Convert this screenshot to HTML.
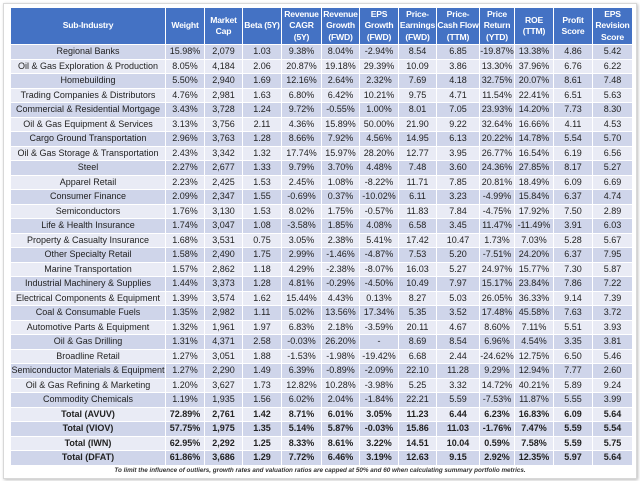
<!DOCTYPE html>
<html><head><meta charset="utf-8"><style>
body{margin:0;width:640px;height:481px;background:#fff;position:relative;overflow:hidden;font-family:"Liberation Sans",sans-serif;}
.frame{position:absolute;left:3px;top:3px;width:632px;height:474px;border:1px solid #d8d8d8;box-shadow:1px 1px 3px #bbb;background:#fff;}
table{position:absolute;left:10px;top:7px;border-collapse:collapse;table-layout:fixed;}
td,th{padding:0;text-align:center;border:1px solid #fff;white-space:nowrap;overflow:hidden;}
th{background:#4472c4;color:#fff;font-size:8.6px;letter-spacing:-0.2px;font-weight:bold;height:36px;line-height:11.5px;}
td{font-size:9px;color:#222;height:13.5px;line-height:13px;}
tr.d td{background:#cfd5ea;}
tr.l td{background:#e9ebf5;}
tr.t td{font-weight:bold;}
.note{position:absolute;left:0;width:640px;top:467px;text-align:center;font-size:6.3px;font-style:italic;font-weight:bold;color:#333;}
</style></head><body>
<div class="frame"></div>
<table>
<colgroup><col style="width:155px"><col style="width:39px"><col style="width:38px"><col style="width:39px"><col style="width:40px"><col style="width:38px"><col style="width:39px"><col style="width:38px"><col style="width:43px"><col style="width:35px"><col style="width:39px"><col style="width:39px"><col style="width:40px"></colgroup>
<tr><th>Sub-Industry</th><th>Weight</th><th>Market<br>Cap</th><th>Beta (5Y)</th><th>Revenue<br>CAGR<br>(5Y)</th><th>Revenue<br>Growth<br>(FWD)</th><th>EPS<br>Growth<br>(FWD)</th><th>Price-<br>Earnings<br>(FWD)</th><th>Price-<br>Cash Flow<br>(TTM)</th><th>Price<br>Return<br>(YTD)</th><th>ROE<br>(TTM)</th><th>Profit<br>Score</th><th>EPS<br>Revision<br>Score</th></tr>
<tr class="d"><td>Regional Banks</td><td>15.98%</td><td>2,079</td><td>1.03</td><td>9.38%</td><td>8.04%</td><td>-2.94%</td><td>8.54</td><td>6.85</td><td>-19.87%</td><td>13.38%</td><td>4.86</td><td>5.42</td></tr>
<tr class="l"><td>Oil &amp; Gas Exploration &amp; Production</td><td>8.05%</td><td>4,184</td><td>2.06</td><td>20.87%</td><td>19.18%</td><td>29.39%</td><td>10.09</td><td>3.86</td><td>13.30%</td><td>37.96%</td><td>6.76</td><td>6.22</td></tr>
<tr class="d"><td>Homebuilding</td><td>5.50%</td><td>2,940</td><td>1.69</td><td>12.16%</td><td>2.64%</td><td>2.32%</td><td>7.69</td><td>4.18</td><td>32.75%</td><td>20.07%</td><td>8.61</td><td>7.48</td></tr>
<tr class="l"><td>Trading Companies &amp; Distributors</td><td>4.76%</td><td>2,981</td><td>1.63</td><td>6.80%</td><td>6.42%</td><td>10.21%</td><td>9.75</td><td>4.71</td><td>11.54%</td><td>22.41%</td><td>6.51</td><td>5.63</td></tr>
<tr class="d"><td>Commercial &amp; Residential Mortgage</td><td>3.43%</td><td>3,728</td><td>1.24</td><td>9.72%</td><td>-0.55%</td><td>1.00%</td><td>8.01</td><td>7.05</td><td>23.93%</td><td>14.20%</td><td>7.73</td><td>8.30</td></tr>
<tr class="l"><td>Oil &amp; Gas Equipment &amp; Services</td><td>3.13%</td><td>3,756</td><td>2.11</td><td>4.36%</td><td>15.89%</td><td>50.00%</td><td>21.90</td><td>9.22</td><td>32.64%</td><td>16.66%</td><td>4.11</td><td>4.53</td></tr>
<tr class="d"><td>Cargo Ground Transportation</td><td>2.96%</td><td>3,763</td><td>1.28</td><td>8.66%</td><td>7.92%</td><td>4.56%</td><td>14.95</td><td>6.13</td><td>20.22%</td><td>14.78%</td><td>5.54</td><td>5.70</td></tr>
<tr class="l"><td>Oil &amp; Gas Storage &amp; Transportation</td><td>2.43%</td><td>3,342</td><td>1.32</td><td>17.74%</td><td>15.97%</td><td>28.20%</td><td>12.77</td><td>3.95</td><td>26.77%</td><td>16.54%</td><td>6.19</td><td>6.56</td></tr>
<tr class="d"><td>Steel</td><td>2.27%</td><td>2,677</td><td>1.33</td><td>9.79%</td><td>3.70%</td><td>4.48%</td><td>7.48</td><td>3.60</td><td>24.36%</td><td>27.85%</td><td>8.17</td><td>5.27</td></tr>
<tr class="l"><td>Apparel Retail</td><td>2.23%</td><td>2,425</td><td>1.53</td><td>2.45%</td><td>1.08%</td><td>-8.22%</td><td>11.71</td><td>7.85</td><td>20.81%</td><td>18.49%</td><td>6.09</td><td>6.69</td></tr>
<tr class="d"><td>Consumer Finance</td><td>2.09%</td><td>2,347</td><td>1.55</td><td>-0.69%</td><td>0.37%</td><td>-10.02%</td><td>6.11</td><td>3.23</td><td>-4.99%</td><td>15.84%</td><td>6.37</td><td>4.74</td></tr>
<tr class="l"><td>Semiconductors</td><td>1.76%</td><td>3,130</td><td>1.53</td><td>8.02%</td><td>1.75%</td><td>-0.57%</td><td>11.83</td><td>7.84</td><td>-4.75%</td><td>17.92%</td><td>7.50</td><td>2.89</td></tr>
<tr class="d"><td>Life &amp; Health Insurance</td><td>1.74%</td><td>3,047</td><td>1.08</td><td>-3.58%</td><td>1.85%</td><td>4.08%</td><td>6.58</td><td>3.45</td><td>11.47%</td><td>-11.49%</td><td>3.91</td><td>6.03</td></tr>
<tr class="l"><td>Property &amp; Casualty Insurance</td><td>1.68%</td><td>3,531</td><td>0.75</td><td>3.05%</td><td>2.38%</td><td>5.41%</td><td>17.42</td><td>10.47</td><td>1.73%</td><td>7.03%</td><td>5.28</td><td>5.67</td></tr>
<tr class="d"><td>Other Specialty Retail</td><td>1.58%</td><td>2,490</td><td>1.75</td><td>2.99%</td><td>-1.46%</td><td>-4.87%</td><td>7.53</td><td>5.20</td><td>-7.51%</td><td>24.20%</td><td>6.37</td><td>7.95</td></tr>
<tr class="l"><td>Marine Transportation</td><td>1.57%</td><td>2,862</td><td>1.18</td><td>4.29%</td><td>-2.38%</td><td>-8.07%</td><td>16.03</td><td>5.27</td><td>24.97%</td><td>15.77%</td><td>7.30</td><td>5.87</td></tr>
<tr class="d"><td>Industrial Machinery &amp; Supplies</td><td>1.44%</td><td>3,373</td><td>1.28</td><td>4.81%</td><td>-0.29%</td><td>-4.50%</td><td>10.49</td><td>7.97</td><td>15.17%</td><td>23.84%</td><td>7.86</td><td>7.22</td></tr>
<tr class="l"><td>Electrical Components &amp; Equipment</td><td>1.39%</td><td>3,574</td><td>1.62</td><td>15.44%</td><td>4.43%</td><td>0.13%</td><td>8.27</td><td>5.03</td><td>26.05%</td><td>36.33%</td><td>9.14</td><td>7.39</td></tr>
<tr class="d"><td>Coal &amp; Consumable Fuels</td><td>1.35%</td><td>2,982</td><td>1.11</td><td>5.02%</td><td>13.56%</td><td>17.34%</td><td>5.35</td><td>3.52</td><td>17.48%</td><td>45.58%</td><td>7.63</td><td>3.72</td></tr>
<tr class="l"><td>Automotive Parts &amp; Equipment</td><td>1.32%</td><td>1,961</td><td>1.97</td><td>6.83%</td><td>2.18%</td><td>-3.59%</td><td>20.11</td><td>4.67</td><td>8.60%</td><td>7.11%</td><td>5.51</td><td>3.93</td></tr>
<tr class="d"><td>Oil &amp; Gas Drilling</td><td>1.31%</td><td>4,371</td><td>2.58</td><td>-0.03%</td><td>26.20%</td><td>-</td><td>8.69</td><td>8.54</td><td>6.96%</td><td>4.54%</td><td>3.35</td><td>3.81</td></tr>
<tr class="l"><td>Broadline Retail</td><td>1.27%</td><td>3,051</td><td>1.88</td><td>-1.53%</td><td>-1.98%</td><td>-19.42%</td><td>6.68</td><td>2.44</td><td>-24.62%</td><td>12.75%</td><td>6.50</td><td>5.46</td></tr>
<tr class="d"><td>Semiconductor Materials &amp; Equipment</td><td>1.27%</td><td>2,290</td><td>1.49</td><td>6.39%</td><td>-0.89%</td><td>-2.09%</td><td>22.10</td><td>11.28</td><td>9.29%</td><td>12.94%</td><td>7.77</td><td>2.60</td></tr>
<tr class="l"><td>Oil &amp; Gas Refining &amp; Marketing</td><td>1.20%</td><td>3,627</td><td>1.73</td><td>12.82%</td><td>10.28%</td><td>-3.98%</td><td>5.25</td><td>3.32</td><td>14.72%</td><td>40.21%</td><td>5.89</td><td>9.24</td></tr>
<tr class="d"><td>Commodity Chemicals</td><td>1.19%</td><td>1,935</td><td>1.56</td><td>6.02%</td><td>2.04%</td><td>-1.84%</td><td>22.21</td><td>5.59</td><td>-7.53%</td><td>11.87%</td><td>5.55</td><td>3.99</td></tr>
<tr class="l t"><td>Total (AVUV)</td><td>72.89%</td><td>2,761</td><td>1.42</td><td>8.71%</td><td>6.01%</td><td>3.05%</td><td>11.23</td><td>6.44</td><td>6.23%</td><td>16.83%</td><td>6.09</td><td>5.64</td></tr>
<tr class="d t"><td>Total (VIOV)</td><td>57.75%</td><td>1,975</td><td>1.35</td><td>5.14%</td><td>5.87%</td><td>-0.03%</td><td>15.86</td><td>11.03</td><td>-1.76%</td><td>7.47%</td><td>5.59</td><td>5.54</td></tr>
<tr class="l t"><td>Total (IWN)</td><td>62.95%</td><td>2,292</td><td>1.25</td><td>8.33%</td><td>8.61%</td><td>3.22%</td><td>14.51</td><td>10.04</td><td>0.59%</td><td>7.58%</td><td>5.59</td><td>5.75</td></tr>
<tr class="d t"><td>Total (DFAT)</td><td>61.86%</td><td>3,686</td><td>1.29</td><td>7.72%</td><td>6.46%</td><td>3.19%</td><td>12.63</td><td>9.15</td><td>2.92%</td><td>12.35%</td><td>5.97</td><td>5.64</td></tr>
</table>
<div class="note">To limit the influence of outliers, growth rates and valuation ratios are capped at 50% and 60 when calculating summary portfolio metrics.</div>
</body></html>
